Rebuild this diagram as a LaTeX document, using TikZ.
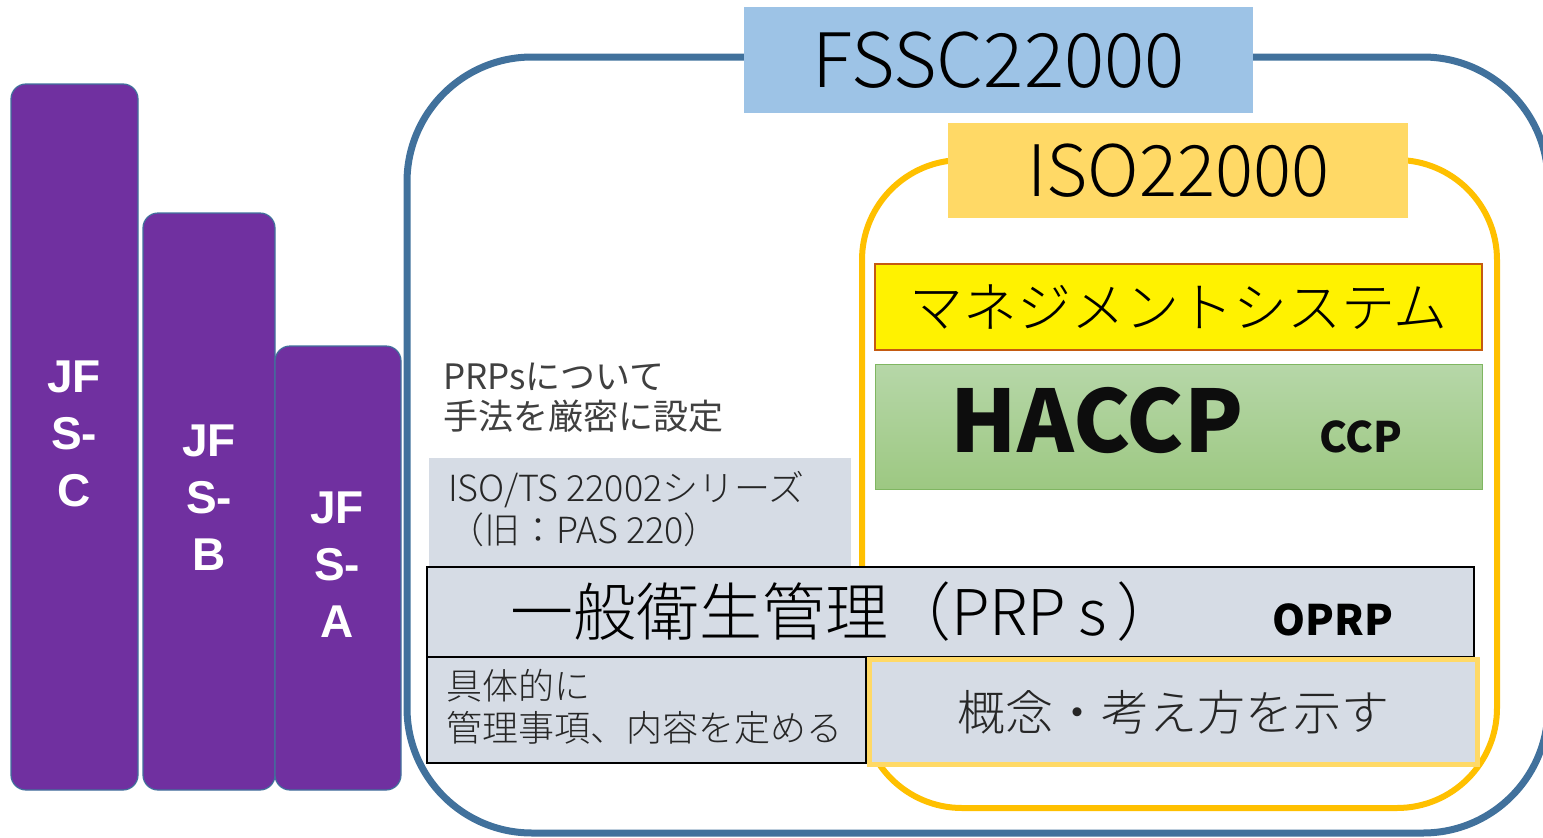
\documentclass[tikz,border=0pt]{standalone}
\usepackage{fontspec}
\setmainfont{Noto Sans CJK JP}
\IfFontExistsTF{Noto Sans CJK JP Light}{\newfontfamily\lightf{Noto Sans CJK JP Light}}{\newfontfamily\lightf{Noto Sans CJK JP}}
\newfontfamily\arialf{Liberation Sans}
\definecolor{purp}{HTML}{7030A0}
\definecolor{barline}{HTML}{41719C}
\definecolor{outerblue}{HTML}{41719C}
\definecolor{fsscfill}{HTML}{9DC3E6}
\definecolor{isofill}{HTML}{FFD966}
\definecolor{isoline}{HTML}{FFC000}
\definecolor{mgmtline}{HTML}{C55A11}
\definecolor{grtop}{HTML}{B6D7A8}
\definecolor{grbot}{HTML}{9DC882}
\definecolor{grline}{HTML}{7FB661}
\definecolor{grayfill}{HTML}{D6DCE5}
\definecolor{dtext}{HTML}{262626}
\definecolor{gtext}{HTML}{404040}
\tikzset{
  bar/.style={draw=barline, line width=1.2pt, fill=purp, rounded corners=15pt, inner sep=0pt, outer sep=0pt, text=white, align=center, font=\arialf\bfseries\fontsize{46}{57}\selectfont},
  plainbox/.style={inner sep=0pt, outer sep=0pt},
  fs/.style={font=\lightf\fontsize{#1}{#1}\selectfont}
}
\begin{document}
\begin{tikzpicture}[x=1pt,y=-1pt]
\useasboundingbox (0,0) rectangle (1543,838);
% outer FSSC frame
\draw[outerblue, line width=7pt, rounded corners=125pt] (407,57) rectangle (1548,833);
% ISO frame
\draw[isoline, line width=6pt, rounded corners=100pt] (862,160) rectangle (1497,808);
% labels
\node[plainbox, fill=fsscfill, minimum width=509pt, minimum height=106pt, fs=75] (fssc) at (998.5,60) {FSSC22000};
\node[plainbox, fill=isofill, minimum width=460pt, minimum height=95pt, fs=71] (iso) at (1178,170.5) {ISO22000};
% management
\node[plainbox, draw=mgmtline, line width=1.2pt, fill=yellow, minimum width=607pt, minimum height=86pt, fs=54] (mgmt) at (1178.5,307) {マネジメントシステム};
% HACCP
\node[plainbox, draw=grline, line width=1pt, top color=grtop, bottom color=grbot, minimum width=607pt, minimum height=125pt] (haccp) at (1178.5,426.5) {};
\node[plainbox, font=\bfseries\fontsize{86}{86}\selectfont, text=black!95] (haccpt) at (1097,421) {HACCP};
\node[plainbox, font=\bfseries\fontsize{42}{42}\selectfont, text=black!95] (ccp) at (1361,437) {CCP};
% PRPs note
\node[plainbox, anchor=west, align=left, text=gtext, font=\fontsize{35}{40}\selectfont] (note) at (443,398) {PRPsについて\\手法を厳密に設定};
% ISO/TS
\node[plainbox, fill=grayfill, minimum width=422pt, minimum height=109pt] (ts) at (640,512.5) {};
\node[plainbox, anchor=west, align=left, text=dtext, font=\lightf\fontsize{36}{42}\selectfont] (tst) at (448,509) {ISO/TS 22002シリーズ\\（旧：PAS 220）};
% PRP
\node[plainbox, draw=black, line width=1.5pt, fill=grayfill, minimum width=1047pt, minimum height=90pt] (prp) at (950.5,612) {};
\node[plainbox, fs=63, text=black] (prpt) at (845,612) {一般衛生管理（PRP\hspace{12pt}s\hspace{10pt}）};
\node[plainbox, font=\bfseries\fontsize{42}{42}\selectfont, text=black] (oprp) at (1333,620) {OPRP};
% bottom left
\node[plainbox, draw=black, line width=1.5pt, fill=grayfill, minimum width=439pt, minimum height=106pt] (spec) at (646.5,710) {};
\node[plainbox, anchor=west, align=left, text=dtext, font=\lightf\fontsize{36}{42}\selectfont] (spect) at (446,707) {具体的に\\管理事項、内容を定める};
% concept
\node[plainbox, draw=isofill, line width=5pt, fill=grayfill, minimum width=608pt, minimum height=105pt, fs=48, text=dtext] (concept) at (1173,712) {概念・考え方を示す};
% JFS bars
\node[bar, minimum width=127pt, minimum height=706pt] (jfsc) at (74.5,437) {};
\node[bar, minimum width=132pt, minimum height=577pt] (jfsb) at (209,501.5) {};
\node[bar, minimum width=126pt, minimum height=444pt] (jfsa) at (338,568) {};
\node[bar, draw=none, fill=none] (jfsct) at (74,434) {JF\\S-\\C};
\node[bar, draw=none, fill=none] (jfsbt) at (209,498) {JF\\S-\\B};
\node[bar, draw=none, fill=none] (jfsat) at (337,565) {JF\\S-\\A};
\end{tikzpicture}
\end{document}
